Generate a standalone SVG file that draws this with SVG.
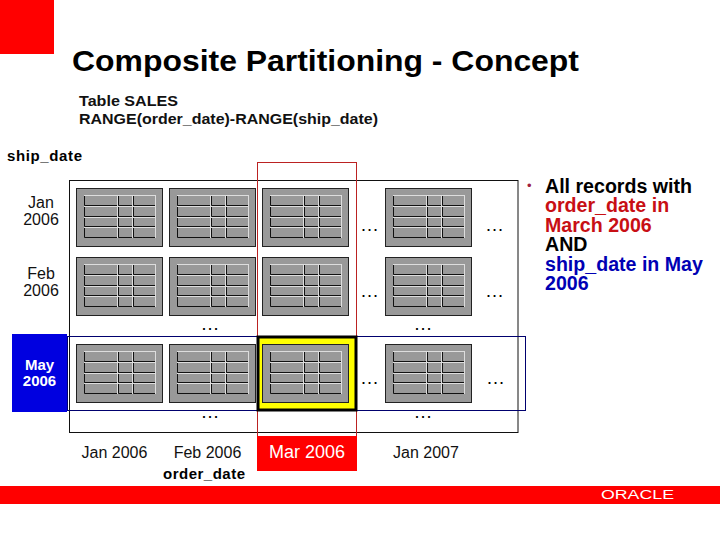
<svg xmlns="http://www.w3.org/2000/svg" width="720" height="540" viewBox="0 0 720 540">
<style>
text{font-family:"Liberation Sans",Arial,sans-serif;fill:#000}
.t15{font-size:15px;font-weight:bold;fill:#111}
.lbl{font-size:16px;text-anchor:middle;fill:#111}
.may{font-size:15px;font-weight:bold;text-anchor:middle;fill:#fff}
.dots{font-size:19px;text-anchor:middle}
.b{font-size:19.6px;font-weight:bold;fill:#000}
.rd{fill:#c80f14}
.bl{fill:#0000b4}
.bg{fill:#999;stroke:#222;stroke-width:1}
.lt{fill:none;stroke:#ddd;stroke-width:1}
.dk{fill:none;stroke:#111;stroke-width:1}
</style>
<defs>
<g id="tbl">
<rect class="bg" x="0.5" y="0.5" width="86" height="58"/>
<path class="dk" d="M8.500 8V17.500H41M8.500 19V28.500H41M8.500 30V38.500H41M8.500 40V49.500H41M42.500 8V17.500H56M42.500 19V28.500H56M42.500 30V38.500H56M42.500 40V49.500H56M57.500 8V17.500H79M57.500 19V28.500H79M57.500 30V38.500H79M57.500 40V49.500H79"/>
<path class="lt" d="M8 7.500H80M8 18.500H80M8 29.500H80M8 39.500H80M41.500 7V50M56.500 7V50M79.500 7V50"/>
</g>
</defs>
<rect width="720" height="540" fill="#fff"/>
<rect id="corner" x="0" y="0" width="54" height="54" fill="#f00"/>
<rect id="band" x="0" y="486" width="720" height="18" fill="#f00"/>
<text x="601" y="499" font-size="12" style="fill:#fff" textLength="73" lengthAdjust="spacingAndGlyphs">ORACLE</text>
<text x="72" y="71" font-size="30" font-weight="bold" textLength="507" lengthAdjust="spacingAndGlyphs">Composite Partitioning - Concept</text>
<text class="t15" x="79" y="106" textLength="99" lengthAdjust="spacingAndGlyphs">Table SALES</text>
<text class="t15" x="79" y="124" textLength="299" lengthAdjust="spacingAndGlyphs">RANGE(order_date)-RANGE(ship_date)</text>
<text x="7" y="161" font-size="15" font-weight="bold" textLength="75" lengthAdjust="spacing">ship_date</text>

<g id="connectors" fill="none">
<rect x="69.500" y="180.500" width="448.500" height="252" stroke="#111" stroke-width="1"/>
<rect x="67.500" y="336.500" width="458" height="74" stroke="#00006e" stroke-width="1"/>
<rect x="257.500" y="162.500" width="99" height="274" stroke="#b22" stroke-width="1"/>
</g>

<g id="highlight"><rect x="258" y="337" width="98" height="73" fill="#ff0" stroke="#000" stroke-width="3"/></g>
<g id="grid">
<g id="r1c1"><use href="#tbl" x="76" y="188"/></g>
<g id="r1c2"><use href="#tbl" x="169" y="188"/></g>
<g id="r1c3"><use href="#tbl" x="262" y="188"/></g>
<g id="r1c4"><use href="#tbl" x="385" y="188"/></g>
<g id="r2c1"><use href="#tbl" x="76" y="257"/></g>
<g id="r2c2"><use href="#tbl" x="169" y="257"/></g>
<g id="r2c3"><use href="#tbl" x="262" y="257"/></g>
<g id="r2c4"><use href="#tbl" x="385" y="257"/></g>
<g id="r3c1"><use href="#tbl" x="76" y="344"/></g>
<g id="r3c2"><use href="#tbl" x="169" y="344"/></g>
<g id="r3c3"><use href="#tbl" x="262" y="344"/></g>
<g id="r3c4"><use href="#tbl" x="385" y="344"/></g>
</g>
<g id="ellipses">
<text class="dots" x="369.500" y="231">…</text><text class="dots" x="494.500" y="231">…</text>
<text class="dots" x="369.500" y="297">…</text><text class="dots" x="494.500" y="297">…</text>
<text class="dots" x="210" y="330">…</text><text class="dots" x="423" y="330">…</text>
<text class="dots" x="369.500" y="384">…</text><text class="dots" x="495.500" y="384">…</text>
<text class="dots" x="210" y="418">…</text><text class="dots" x="423" y="418">…</text>
</g>
<g id="row-labels">
<text class="lbl" x="41" y="208">Jan</text><text class="lbl" x="41" y="225">2006</text>
<text class="lbl" x="41" y="279">Feb</text><text class="lbl" x="41" y="296">2006</text>
<rect x="12" y="334" width="55" height="78" fill="#0000e0"/>
<text class="may" x="39.500" y="370">May</text>
<text class="may" x="39.500" y="386">2006</text>
</g>
<g id="col-labels">
<text class="lbl" x="114.500" y="458">Jan 2006</text>
<text class="lbl" x="207.500" y="458">Feb 2006</text>
<text x="204" y="479" font-size="15" font-weight="bold" text-anchor="middle" textLength="82" lengthAdjust="spacing">order_date</text>
<rect x="257" y="436" width="100" height="35" fill="#f00"/>
<text x="307" y="458" font-size="18" text-anchor="middle" style="fill:#fff">Mar 2006</text>
<text class="lbl" x="426" y="458">Jan 2007</text>
</g>
<g id="note">
<text x="527" y="190" font-size="13" style="fill:#a02040">•</text>
<text class="b" x="545" y="193">All records with</text>
<text class="b rd" x="545" y="212">order_date in</text>
<text class="b rd" x="545" y="232">March 2006</text>
<text class="b" x="545" y="251">AND</text>
<text class="b bl" x="545" y="271">ship_date in May</text>
<text class="b bl" x="545" y="290">2006</text>
</g>
</svg>
